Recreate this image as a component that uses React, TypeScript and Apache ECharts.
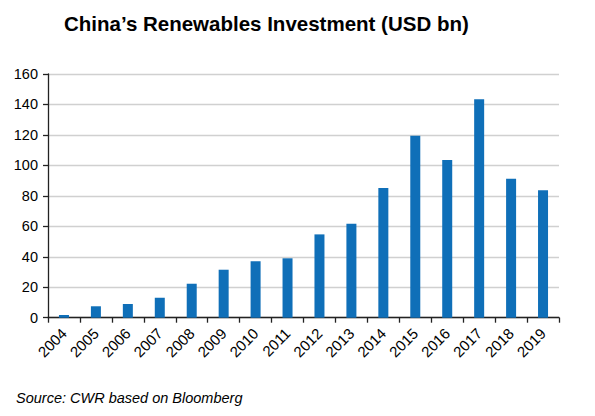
import React, { useEffect, useRef } from "react";
import * as echarts from "echarts";

const years = ["2004","2005","2006","2007","2008","2009","2010","2011","2012","2013","2014","2015","2016","2017","2018","2019"];
const investment = [1.8, 7.5, 9.0, 13.1, 22.3, 31.5, 37.0, 39.0, 54.7, 61.7, 85.1, 119.5, 103.5, 143.4, 91.3, 83.6];
const titleText = "China\u2019s Renewables Investment (USD bn)";
const sourceText = "Source: CWR based on Bloomberg";

export default function App() {
  const ref = useRef<HTMLDivElement>(null);
  useEffect(() => {
    document.body.style.margin = "0";
    const chart = echarts.init(ref.current!, null, { renderer: "svg" });
    chart.setOption({
      animation: false,
      backgroundColor: "#ffffff",
      title: {
        text: titleText,
        left: 59,
        top: 8,
        textStyle: { fontFamily: "Liberation Sans, Arial", fontWeight: "bold", fontSize: 20.5, color: "#000" },
      },
      graphic: [
        {
          type: "text",
          left: 16,
          top: 390,
          style: { text: sourceText, fontFamily: "Liberation Sans, Arial", fontStyle: "italic", fontSize: 14.5, fill: "#000" },
        },
      ],
      grid: { left: 48, right: 36, top: 74, bottom: 98.3, containLabel: false },
      xAxis: {
        type: "category",
        data: years,
        axisLine: { lineStyle: { color: "#222", width: 1.3 } },
        axisTick: { show: true, alignWithLabel: false, length: 5, lineStyle: { color: "#222", width: 1.3 } },
        axisLabel: { rotate: 45, fontFamily: "Liberation Sans, Arial", fontSize: 15, color: "#000", margin: 13, interval: 0 },
      },
      yAxis: {
        type: "value",
        min: 0,
        max: 160,
        interval: 20,
        axisLine: { show: true, lineStyle: { color: "#222", width: 1.3 } },
        axisTick: { show: true, length: 5, lineStyle: { color: "#222", width: 1.3 } },
        axisLabel: { fontFamily: "Liberation Sans, Arial", fontSize: 14.5, color: "#000", margin: 10 },
        splitLine: { lineStyle: { color: "#d0d0d0", width: 1.3 } },
      },
      series: [
        {
          type: "bar",
          data: investment,
          barWidth: 10,
          itemStyle: { color: "#0f6fb8" },
        },
      ],
    });
    return () => chart.dispose();
  }, []);
  return <div ref={ref} style={{ width: 595, height: 416, position: "absolute", left: 0, top: 0 }} />;
}
